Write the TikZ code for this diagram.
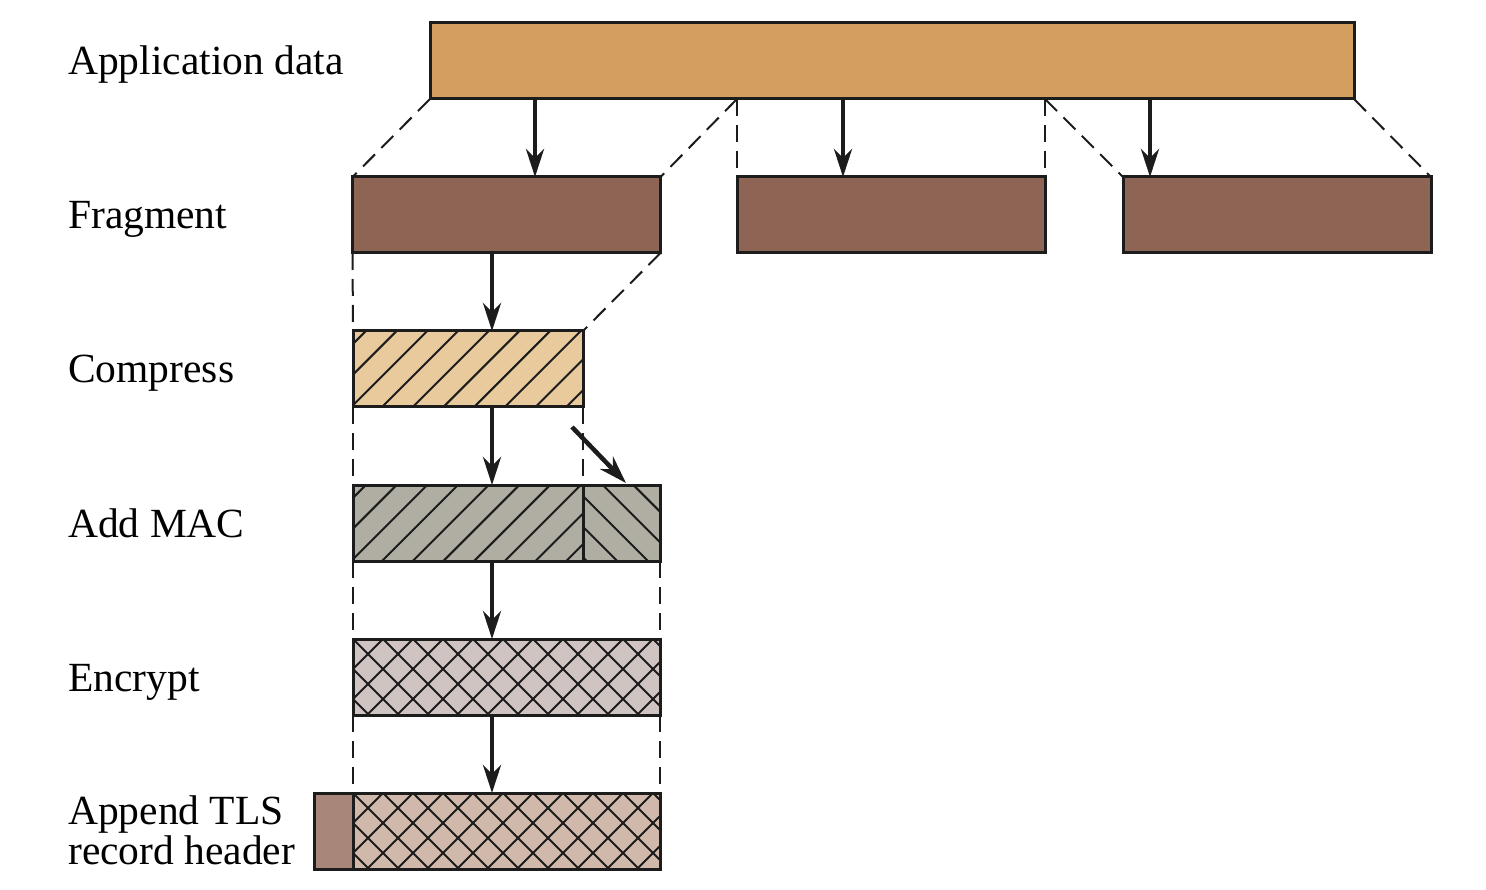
\documentclass[tikz,border=0pt]{standalone}
\usepackage{fontspec}
\setmainfont{Liberation Serif}
\usetikzlibrary{arrows.meta}
\definecolor{edge}{HTML}{1C1C1C}
\definecolor{appc}{HTML}{D39F5E}
\definecolor{fragc}{HTML}{8E6454}
\definecolor{compc}{HTML}{E8CA9D}
\definecolor{macc}{HTML}{B0ADA2}
\definecolor{encc}{HTML}{D0C4C3}
\definecolor{appendc}{HTML}{D0B9AA}
\definecolor{hdrc}{HTML}{A8877A}
\begin{document}
\begin{tikzpicture}[x=1pt,y=-1pt,
  box/.style={draw=edge,line width=3pt,inner sep=0pt,outer sep=0pt,minimum height=76pt},
  hatchline/.style={draw=edge,line width=2pt},
  hatchne/.style={path picture={\foreach \i in {-4,...,14}{\draw[hatchline] ([xshift=\i*30.7pt-1.7pt]path picture bounding box.south west) -- ++(130pt,130pt);}}},
  hatchnw/.style={path picture={\foreach \i in {-4,...,8}{\draw[hatchline] ([xshift=-\i*30.7pt-12pt]path picture bounding box.south east) -- ++(-130pt,130pt);}}},
  crosshatch/.style={path picture={\foreach \i in {-4,...,14}{\draw[hatchline] ([xshift=\i*30pt]path picture bounding box.north west) -- ++(-130pt,-130pt); \draw[hatchline] ([xshift=\i*30pt]path picture bounding box.north west) -- ++(130pt,-130pt);}}},
  guide/.style={draw=edge,line width=2pt,dash pattern=on 17pt off 9pt},
  arr/.style={draw=edge,line width=4.5pt,-{Stealth[length=28pt,width=18pt,inset=9pt]}},
  lbl/.style={anchor=base west,inner sep=0pt,font=\fontsize{41.5pt}{37pt}\selectfont,text=black}
]
\useasboundingbox[fill=white] (0,0) rectangle (1486,890);

% labels
\node[lbl] (l1) at (68,75) {Application data};
\node[lbl] (l2) at (68,229) {Fragment};
\node[lbl] (l3) at (68,383) {Compress};
\node[lbl] (l4) at (68,537) {Add MAC};
\node[lbl] (l5) at (68,691) {Encrypt};
\node[lbl] (l6a) at (68,824) {Append TLS};
\node[lbl] (l6b) at (68,864) {record header};

% boxes
\node[box,fill=appc,minimum width=924pt] (app) at (892,61) {};
\node[box,fill=fragc,minimum width=308pt] (f1) at (506.5,215) {};
\node[box,fill=fragc,minimum width=308pt] (f2) at (891,215) {};
\node[box,fill=fragc,minimum width=308pt] (f3) at (1277,215) {};
\node[box,fill=compc,hatchne,minimum width=230pt] (cmp) at (468,369) {};
\node[box,fill=macc,hatchne,minimum width=230pt] (maca) at (468,523) {};
\node[box,fill=macc,hatchnw,minimum width=77pt] (macb) at (621.5,523) {};
\node[box,fill=encc,crosshatch,minimum width=307pt] (enc) at (506.5,677) {};
\node[box,fill=hdrc,minimum width=39pt] (hdr) at (333.5,831) {};
\node[box,fill=appendc,crosshatch,minimum width=307pt] (rec) at (506.5,831) {};

% dashed guides
\draw[guide] (app.south west) -- (f1.north west);
\coordinate (s1) at (737,99);
\coordinate (s2) at (1045,99);
\draw[guide] (s1) -- (f1.north east);
\draw[guide] (s1) -- (f2.north west);
\draw[guide] (s2) -- (f2.north east);
\draw[guide] (s2) -- (f3.north west);
\draw[guide] (app.south east) -- (f3.north east);
\draw[guide] (f1.south west) -- (cmp.north west);
\draw[guide] (f1.south east) -- (cmp.north east);
\draw[guide] (cmp.south west) -- (maca.north west);
\draw[guide] (cmp.south east) -- (maca.north east);
\draw[guide] (maca.south west) -- (enc.north west);
\draw[guide] (macb.south east) -- (enc.north east);
\draw[guide] (enc.south west) -- (rec.north west);
\draw[guide] (enc.south east) -- (rec.north east);

% arrows
\coordinate (x1) at (535,0);
\coordinate (x2) at (843,0);
\coordinate (x3) at (1150,0);
\coordinate (xc) at (492,0);
\draw[arr] (x1 |- app.south) -- (x1 |- f1.north);
\draw[arr] (x2 |- app.south) -- (x2 |- f2.north);
\draw[arr] (x3 |- app.south) -- (x3 |- f3.north);
\draw[arr] (xc |- f1.south) -- (xc |- cmp.north);
\draw[arr] (xc |- cmp.south) -- (xc |- maca.north);
\draw[arr] (xc |- maca.south) -- (xc |- enc.north);
\draw[arr] (xc |- enc.south) -- (xc |- rec.north);
\coordinate (d0) at (572,427);
\coordinate (d1) at (626,483);
\draw[arr] (d0) -- (d1);
\end{tikzpicture}
\end{document}
